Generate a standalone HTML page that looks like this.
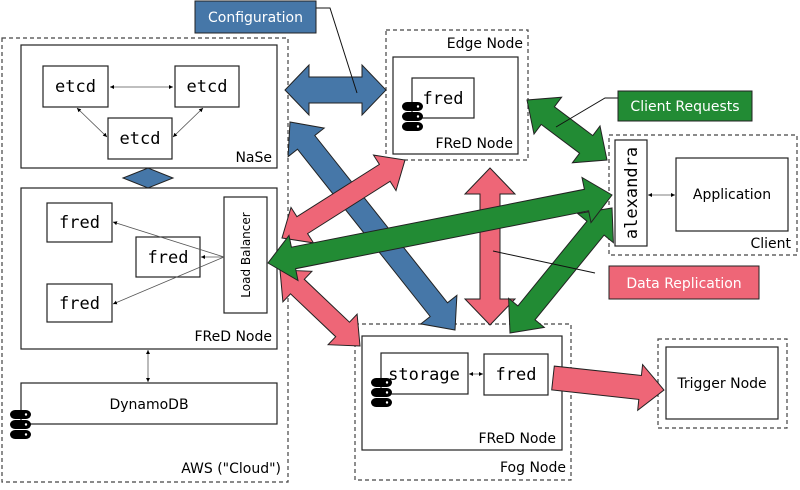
<!DOCTYPE html>
<html><head><meta charset="utf-8"><style>
html,body{margin:0;padding:0;background:#fff;}
svg{display:block;}
.m{font-family:"DejaVu Sans Mono","Liberation Mono",monospace;font-size:17px;}
.s{font-family:"DejaVu Sans","Liberation Sans",sans-serif;font-size:14px;}
</style></head><body>
<svg id="g" width="800" height="490" viewBox="0 0 800 490" xmlns="http://www.w3.org/2000/svg">
<defs>
<marker id="ah" markerWidth="6" markerHeight="6" refX="5" refY="3" orient="auto-start-reverse"><path d="M0,0.5 L5,3 L0,5.5 z" fill="#000"/></marker>
</defs>
<g fill="none" stroke="#444" stroke-dasharray="4,3" stroke-width="1.2">
<rect x="2" y="38" width="286" height="444"/>
<rect x="386" y="30" width="142" height="130"/>
<rect x="609" y="135" width="188" height="120"/>
<rect x="355" y="324" width="216" height="156"/>
<rect x="658" y="339" width="129" height="89"/>
</g>
<g fill="#fff" stroke="#222" stroke-width="1.2">
<rect x="21" y="45" width="256" height="123"/>
<rect x="43" y="66" width="65" height="41"/>
<rect x="175" y="66" width="64" height="41"/>
<rect x="108" y="118" width="64" height="41"/>
<rect x="21" y="188" width="256" height="161"/>
<rect x="47" y="203" width="65" height="39"/>
<rect x="136" y="237" width="64" height="40"/>
<rect x="47" y="284" width="65" height="38"/>
<rect x="224" y="197" width="43" height="116"/>
<rect x="21" y="383" width="256" height="41"/>
<rect x="393" y="57" width="125" height="97"/>
<rect x="412" y="78" width="62" height="40"/>
<rect x="615" y="140" width="32" height="106"/>
<rect x="676" y="158" width="112" height="73"/>
<rect x="362" y="336" width="200" height="114"/>
<rect x="381" y="353" width="87" height="41"/>
<rect x="484" y="354" width="64" height="41"/>
<rect x="666" y="347" width="112" height="72"/>
</g>
<polygon points="123,178 148,168 173,178 148,188" fill="#4677a8" stroke="#222"/>
<g stroke="#555" stroke-width="0.8" marker-start="url(#ah)" marker-end="url(#ah)">
<line x1="110" y1="87" x2="173" y2="87"/>
<line x1="77" y1="108" x2="107" y2="137"/>
<line x1="203" y1="108" x2="173" y2="137"/>
<line x1="148" y1="350" x2="148" y2="382"/>
<line x1="648" y1="195" x2="675" y2="195"/>
<line x1="469" y1="374" x2="483" y2="374"/>
</g>
<g stroke="#555" stroke-width="0.8" marker-end="url(#ah)">
<line x1="224" y1="257" x2="113" y2="222"/>
<line x1="224" y1="257" x2="201" y2="257"/>
<line x1="224" y1="257" x2="113" y2="304"/>
</g>
<g id="arrows" stroke="#222" stroke-width="1"></g>
<g stroke="#111" stroke-width="1" fill="none">
<polyline points="316,8 330,8 357,93"/>
<polyline points="618,98 605,98 556,127"/>
<polyline points="595,273 493,251"/>
</g>
<rect x="195" y="1" width="121" height="32" fill="#4677a8" stroke="#222"/>
<text x="255.5" y="22" class="s" fill="#fff" text-anchor="middle">Configuration</text>
<rect x="618" y="91" width="134" height="30" fill="#228b34" stroke="#222"/>
<text x="685" y="111" class="s" fill="#fff" text-anchor="middle">Client Requests</text>
<rect x="609" y="266" width="150" height="33" fill="#ee6677" stroke="#222"/>
<text x="684" y="288" class="s" fill="#fff" text-anchor="middle">Data Replication</text>
<g class="m" text-anchor="middle" fill="#000">
<text x="75.5" y="92">etcd</text><text x="207" y="92">etcd</text><text x="140" y="144">etcd</text>
<text x="79.5" y="228">fred</text><text x="168" y="263">fred</text><text x="79.5" y="309">fred</text>
<text x="443" y="104">fred</text><text x="424" y="380">storage</text><text x="516" y="380">fred</text>
<text transform="translate(637,193) rotate(-90)">alexandra</text>
</g>
<g class="s" fill="#000">
<text x="272" y="162" text-anchor="end">NaSe</text>
<text x="272" y="341" text-anchor="end">FReD Node</text>
<text x="149" y="409" text-anchor="middle">DynamoDB</text>
<text x="281" y="473" text-anchor="end">AWS ("Cloud")</text>
<text x="523" y="48" text-anchor="end">Edge Node</text>
<text x="513" y="148" text-anchor="end">FReD Node</text>
<text x="732" y="199" text-anchor="middle">Application</text>
<text x="791" y="248" text-anchor="end">Client</text>
<text x="556" y="443" text-anchor="end">FReD Node</text>
<text x="566" y="472" text-anchor="end">Fog Node</text>
<text x="722" y="388" text-anchor="middle">Trigger Node</text>
<text transform="translate(250,255) rotate(-90)" text-anchor="middle" font-size="12">Load Balancer</text>
</g>
<g id="dbs"></g>
</svg>
<script>
var A=document.getElementById('arrows');
function arr(x1,y1,x2,y2,sw,hw,hl,fill,dbl){
 var dx=x2-x1,dy=y2-y1,L=Math.hypot(dx,dy),ux=dx/L,uy=dy/L,nx=-uy,ny=ux;
 function p(t,o){return (x1+ux*t+nx*o).toFixed(1)+','+(y1+uy*t+ny*o).toFixed(1);}
 var s=sw/2,h=hw/2,pts=[];
 if(dbl){pts.push(p(0,0),p(hl,h),p(hl,s));}else{pts.push(p(0,s));}
 pts.push(p(L-hl,s),p(L-hl,h),p(L,0),p(L-hl,-h),p(L-hl,-s));
 if(dbl){pts.push(p(hl,-s),p(hl,-h));}else{pts.push(p(0,-s));}
 var e=document.createElementNS('http://www.w3.org/2000/svg','polygon');
 e.setAttribute('points',pts.join(' '));e.setAttribute('fill',fill);A.appendChild(e);
}
var B='#4677a8',G='#228b34',P='#ee6677';
arr(285,90,386,90,26,50,24,B,1);
arr(290,122,455,330,22,46,26,B,1);
arr(282,238,405,160,20,42,24,P,1);
arr(280,270,360,346,20,42,24,P,1);
arr(490,168,490,325,20,50,26,P,1);
arr(553,378,664,390,24,46,24,P,0);
arr(527,100,607,160,22,46,26,G,1);
arr(510,333,612,208,22,46,26,G,1);
arr(268,263,612,195,22,46,26,G,1);
var D=document.getElementById('dbs');
function db(x,y){var h='';for(var i=0;i<3;i++){h+='<rect x="'+x+'" y="'+(y+i*10)+'" width="21" height="9" rx="5" fill="#000"/><circle cx="'+(x+16)+'" cy="'+(y+i*10+4.5)+'" r="1.2" fill="#fff"/>';}D.innerHTML+=h;}
db(10,410);db(402,102);db(371,378);
</script>
</body></html>
